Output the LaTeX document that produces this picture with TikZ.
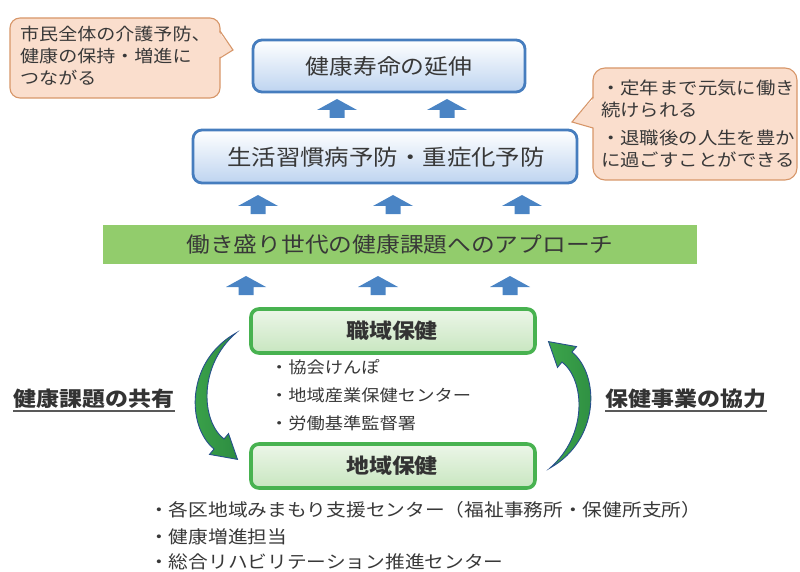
\documentclass[tikz,border=0pt]{standalone}
\usepackage{graphicx}
\usepackage{fontspec}
\setmainfont{Noto Sans CJK JP}
\definecolor{bborder}{RGB}{70,125,190}
\definecolor{bfill}{RGB}{190,212,240}
\definecolor{gborder}{RGB}{72,178,80}
\definecolor{gtop}{RGB}{236,246,232}
\definecolor{gbot}{RGB}{200,230,192}
\definecolor{peach}{RGB}{250,222,205}
\definecolor{peachline}{RGB}{215,150,105}
\definecolor{arrblue}{RGB}{74,132,196}
\definecolor{barfill}{RGB}{146,204,108}
\definecolor{cvline}{RGB}{40,80,140}
\definecolor{cvA}{RGB}{60,165,75}
\definecolor{cvB}{RGB}{45,140,65}
\newcommand{\sxw}[1]{\scalebox{1.12}[1]{#1}}
\begin{document}
\begin{tikzpicture}[x=1pt,y=-1pt,
  txt/.style={text=black!78, inner sep=0pt, font=\fontsize{#1}{#1}\selectfont},
  btxt/.style={text=black!80, inner sep=0pt, font=\bfseries\fontsize{#1}{#1}\selectfont},
  bluebox/.style={draw=bborder, line width=2.8pt, rounded corners=9pt,
     top color=white, bottom color=bfill},
  greenbox/.style={draw=gborder, line width=3.6pt, rounded corners=8pt,
     top color=gtop, bottom color=gbot},
  callbox/.style={fill=peach},
  callline/.style={draw=peachline, line width=1.1pt},
  uparr/.pic={\fill[arrblue] (-20,0) -- (0,-11) -- (20,0) -- (7.5,0) -- (7.5,8) -- (-7.5,8) -- (-7.5,0) -- cycle;},
  curvarr/.style={draw=cvline, line width=0.9pt, left color=cvA, right color=cvB}
]
\useasboundingbox (0,0) rectangle (800,572);

% left callout
\path[callbox, callline, rounded corners=10pt] (10,18) rectangle (220,98);
\fill[callbox] (218,31) -- (233,50) -- (218,58) -- cycle;
\draw[callline] (220,31) -- (233,50) -- (220,58);
\node[txt=17, anchor=west] (cl1) at (20,34) {\sxw{市民全体の介護予防、}};
\node[txt=17, anchor=west] (cl2) at (20,56) {\sxw{健康の保持・増進に}};
\node[txt=17, anchor=west] (cl3) at (20,78) {\sxw{つながる}};

% right callout
\path[callbox, callline, rounded corners=12pt] (593,68) rectangle (797,180);
\fill[callbox] (595,97) -- (572,122) -- (595,128) -- cycle;
\draw[callline] (593,97) -- (572,122) -- (593,128);
\node[txt=17.3, anchor=west] (cr1) at (601,88) {\sxw{・定年まで元気に働き}};
\node[txt=17.3, anchor=west] (cr2) at (601,110) {\sxw{続けられる}};
\node[txt=17.3, anchor=west] (cr3) at (601,138) {\sxw{・退職後の人生を豊か}};
\node[txt=17.3, anchor=west] (cr4) at (601,160) {\sxw{に過ごすことができる}};

% top boxes
\path[bluebox] (253,40) rectangle (525,92);
\node[txt=21.3] (top) at (389,66) {\sxw{健康寿命の延伸}};
\pic at (337,110) {uparr};
\pic at (447,110) {uparr};
\path[bluebox] (193,130) rectangle (577,183);
\node[txt=21.8] (mid) at (386,157) {\sxw{生活習慣病予防・重症化予防}};

\pic at (258,206) {uparr};
\pic at (393,206) {uparr};
\pic at (522,206) {uparr};

% green bar
\fill[barfill] (103,225) rectangle (697,264);
\node[txt=21.2] (bar) at (400,244) {\sxw{働き盛り世代の健康課題へのアプローチ}};

\pic at (246,287) {uparr};
\pic at (378,287) {uparr};
\pic at (510,287) {uparr};

% green boxes
\path[greenbox] (251,309) rectangle (535,353);
\node[btxt=20.5] (shoku) at (392,331) {\sxw{職域保健}};
\node[txt=16.3, anchor=west] (l1) at (270,367) {\sxw{・協会けんぽ}};
\node[txt=16.3, anchor=west] (l2) at (270,395) {\sxw{・地域産業保健センター}};
\node[txt=16.3, anchor=west] (l3) at (270,423) {\sxw{・労働基準監督署}};
\path[greenbox] (251,444) rectangle (535,488);
\node[btxt=20.5] (chiiki) at (392,466) {\sxw{地域保健}};

\node[txt=17.6, anchor=west] (b1) at (149,510) {\sxw{・各区地域みまもり支援センター（福祉事務所・保健所支所）}};
\node[txt=17.6, anchor=west] (b2) at (149,537) {\sxw{・健康増進担当}};
\node[txt=17.6, anchor=west] (b3) at (149,562) {\sxw{・総合リハビリテーション推進センター}};

% curved arrows
\path[curvarr] (550,468) .. controls (600,440) and (600,375) .. (572,352)
  -- (576.5,346.6) -- (548.5,341.6) -- (557.5,367.4) -- (562,362)
  .. controls (585,380) and (588,435) .. (550,468) -- cycle;
\path[curvarr] (236,333) .. controls (186,361) and (186,426) .. (214,449)
  -- (209.5,454.4) -- (237.5,459.4) -- (228.5,433.6) -- (224,439)
  .. controls (201,421) and (198,366) .. (236,333) -- cycle;

% labels
\node[btxt=20.5] (lab1) at (94,399) {\sxw{健康課題の共有}};
\draw[black!65, line width=1.6pt] ([yshift=-2pt]lab1.south west) -- ([yshift=-2pt]lab1.south east);
\node[btxt=20.5] (lab2) at (686,399) {\sxw{保健事業の協力}};
\draw[black!65, line width=1.6pt] ([yshift=-2pt]lab2.south west) -- ([yshift=-2pt]lab2.south east);
\end{tikzpicture}
\end{document}
